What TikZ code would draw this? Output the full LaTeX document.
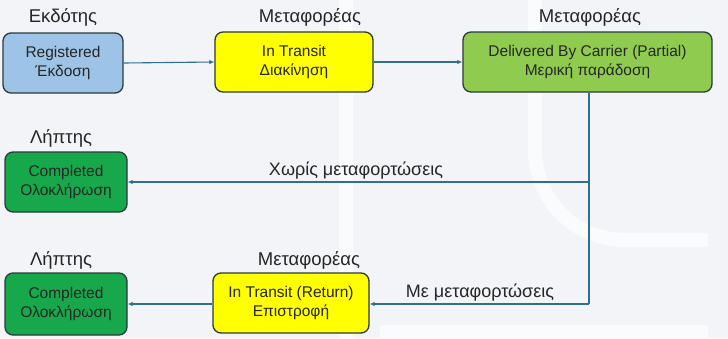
\documentclass[tikz,border=0pt]{standalone}
\usepackage{fontspec}
\setmainfont{Liberation Sans}
\usetikzlibrary{arrows.meta}
\definecolor{bg}{HTML}{F2F4F7}
\definecolor{wm}{HTML}{FAFBFC}
\definecolor{lblue}{HTML}{9DC3E6}
\definecolor{yel}{HTML}{FFFF00}
\definecolor{lgreen}{HTML}{8FCB4F}
\definecolor{dgreen}{HTML}{16A84A}
\definecolor{edge}{HTML}{2B3A3F}
\definecolor{arr}{HTML}{2F6F8F}
\definecolor{txt}{HTML}{262626}
\tikzset{
  box/.style={draw=edge, line width=1.3pt, rounded corners=8pt, align=center, text=txt, font=\fontsize{15.5}{19}\selectfont, inner sep=0pt},
  role/.style={font=\fontsize{18.5}{21}\selectfont, inner sep=0pt, text=txt},
  elabel/.style={font=\fontsize{18}{21}\selectfont, inner sep=0pt, anchor=base, text=txt},
  conn/.style={draw=arr, line width=1.1pt, -{Latex[length=5pt,width=4.5pt]}},
  wmark/.style={draw=wm, line width=14pt},
}
\begin{document}
\begin{tikzpicture}[x=1pt,y=-1pt]
\fill[bg] (0,0) rectangle (728,338);
\useasboundingbox (0,0) rectangle (728,338);
% faint watermark
\draw[wmark] (346,0) -- (346,338);
\draw[wmark] (535,0) -- (535,150) arc[start angle=180, end angle=90, radius=90] -- (708,240);
\draw[wmark] (380,332) -- (708,332);
% nodes
\node[box, fill=lblue, minimum width=120pt, minimum height=60pt] (reg) at (63,63) {Registered\\Έκδοση};
\node[box, fill=yel, minimum width=158pt, minimum height=60pt] (transit) at (294,62) {In Transit\\Διακίνηση};
\node[box, fill=lgreen, minimum width=249pt, minimum height=60pt] (deliv) at (587.5,62) {Delivered By Carrier (Partial)\\Μερική παράδοση};
\node[box, fill=dgreen, minimum width=122pt, minimum height=60pt] (comp1) at (66,182) {Completed\\Ολοκλήρωση};
\node[box, fill=dgreen, minimum width=122pt, minimum height=62pt] (comp2) at (66,304) {Completed\\Ολοκλήρωση};
\node[box, fill=yel, minimum width=156pt, minimum height=60pt] (ret) at (291,303) {In Transit (Return)\\Επιστροφή};
% role labels
\node[role] (r1) at (63,17) {Εκδότης};
\node[role] (r2) at (310,17) {Μεταφορέας};
\node[role] (r3) at (590,17) {Μεταφορέας};
\node[role] (r4) at (61,138) {Λήπτης};
\node[role] (r5) at (61,260) {Λήπτης};
\node[role] (r6) at (309,260) {Μεταφορέας};
% connectors
\coordinate (j1) at (589,182);
\coordinate (j2) at (589,304);
\draw[conn] (reg.east) -- (transit.west);
\draw[conn] (transit.east) -- (deliv.west);
\draw[draw=arr, line width=1.1pt] (deliv.south -| j1) -- (j2);
\draw[conn] (j1) -- (comp1.east |- j1);
\node[elabel] (l1) at (356,175) {Χωρίς μεταφορτώσεις};
\draw[conn] (j2) -- (ret.east |- j2);
\node[elabel] (l2) at (480,297) {Με μεταφορτώσεις};
\draw[conn] (ret.west |- j2) -- (comp2.east |- j2);
\end{tikzpicture}
\end{document}
